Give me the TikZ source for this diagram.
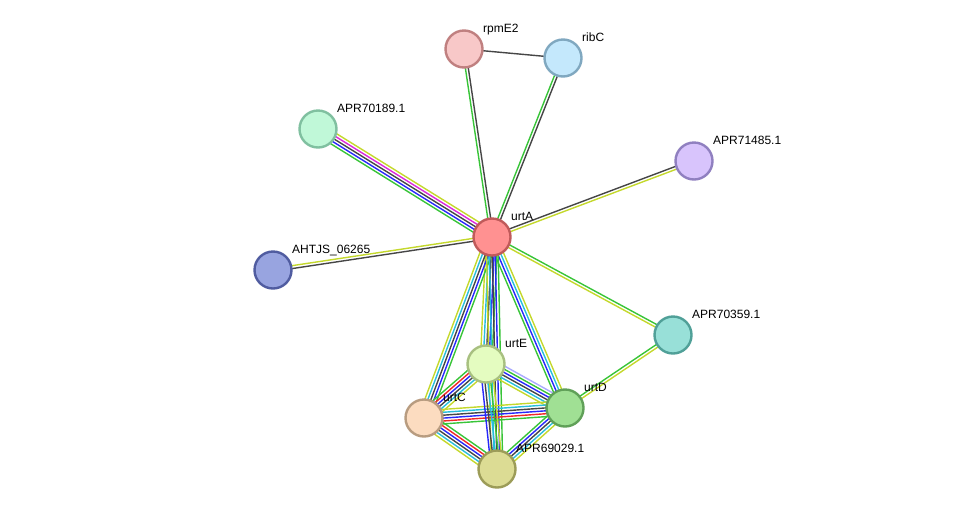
\documentclass[tikz,border=0pt]{standalone}
\usepackage{fontspec}
\setmainfont{Liberation Sans}
\usetikzlibrary{calc,backgrounds}
% evidence colours
\definecolor{tm}{RGB}{196,216,44}
\definecolor{nb}{RGB}{56,196,56}
\definecolor{cx}{RGB}{70,70,70}
\definecolor{co}{RGB}{40,40,250}
\definecolor{ex}{RGB}{220,40,220}
\definecolor{db}{RGB}{40,190,220}
\definecolor{fu}{RGB}{240,40,40}
\definecolor{hm}{RGB}{170,170,255}
% protein colours
\definecolor{urtAf}{RGB}{255,145,145}\definecolor{urtAd}{RGB}{192,90,90}
\definecolor{rpmE2f}{RGB}{248,200,200}\definecolor{rpmE2d}{RGB}{192,128,128}
\definecolor{ribCf}{RGB}{196,232,252}\definecolor{ribCd}{RGB}{128,168,192}
\definecolor{p70189f}{RGB}{192,248,216}\definecolor{p70189d}{RGB}{128,192,160}
\definecolor{p71485f}{RGB}{216,196,252}\definecolor{p71485d}{RGB}{144,128,192}
\definecolor{ahtjsf}{RGB}{152,164,224}\definecolor{ahtjsd}{RGB}{80,92,160}
\definecolor{p70359f}{RGB}{152,224,216}\definecolor{p70359d}{RGB}{80,160,152}
\definecolor{urtEf}{RGB}{228,252,192}\definecolor{urtEd}{RGB}{168,192,128}
\definecolor{urtCf}{RGB}{252,220,192}\definecolor{urtCd}{RGB}{184,156,128}
\definecolor{urtDf}{RGB}{160,224,148}\definecolor{urtDd}{RGB}{96,160,88}
\definecolor{p69029f}{RGB}{220,220,148}\definecolor{p69029d}{RGB}{156,156,88}
\tikzset{prot/.style={circle,minimum size=37pt,inner sep=0pt,line width=2.4pt,fill=#1f,draw=#1d},
lbl/.style={anchor=base west,inner sep=0pt,font=\fontsize{12}{14}\selectfont}}
\newcommand{\strlink}[3]{%
\foreach \col [count=\k] in {#3} {\xdef\nl{\k}}%
\foreach \col [count=\k, evaluate=\k as \off using (\k-(\nl+1)/2)*2.9] in {#3}
{\draw[\col,line width=1.4pt] ($(#1)!\off pt!90:(#2)$) -- ($(#2)!\off pt!-90:(#1)$);}}
\begin{document}
\begin{tikzpicture}[x=1pt,y=-1pt]
\useasboundingbox (0,0) rectangle (976,515);
\foreach \n/\x/\y/\t in {urtA/492/237/urtA,rpmE2/464/49/rpmE2,ribC/563/58/ribC,p70189/318/129/APR70189.1,p71485/694/161/APR71485.1,ahtjs/273/270/AHTJS\_06265,p70359/673/335/APR70359.1,urtE/486/364/urtE,urtC/424/418/urtC,urtD/565/408/urtD,p69029/497/469/APR69029.1}
{\node[prot=\n] (\n) at (\x,\y) {};\node[lbl] (\n-l) at (\x+19,\y-17) {\t};}
\begin{scope}[on background layer]
\strlink{rpmE2}{ribC}{cx}
\strlink{urtA}{rpmE2}{cx,nb}
\strlink{urtA}{ribC}{cx,nb}
\strlink{urtA}{p70189}{tm,ex,cx,co,nb}
\strlink{urtA}{p71485}{tm,cx}
\strlink{urtA}{ahtjs}{tm,cx}
\strlink{urtA}{p70359}{tm,nb}
\strlink{p70359}{urtD}{nb,tm}
\strlink{urtA}{urtE}{tm,db,cx,co,nb}
\strlink{urtA}{urtC}{tm,db,cx,co,nb}
\strlink{urtA}{urtD}{nb,co,db,tm}
\strlink{urtA}{p69029}{tm,db,cx,co,nb}
\strlink{urtE}{urtC}{nb,fu,co,cx,db,tm}
\strlink{urtE}{urtD}{tm,db,cx,co,nb,hm}
\strlink{urtC}{urtD}{nb,fu,co,cx,db,tm}
\strlink{urtC}{p69029}{tm,db,cx,co,fu,nb}
\strlink{urtE}{p69029}{co,cx,db,nb,tm}
\strlink{urtD}{p69029}{nb,co,cx,db,tm}
\end{scope}
\end{tikzpicture}
\end{document}
